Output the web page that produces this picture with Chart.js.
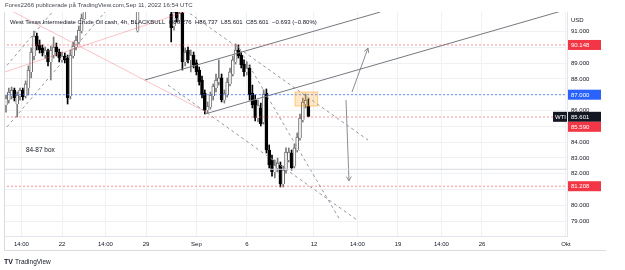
<!DOCTYPE html>
<html>
<head>
<meta charset="utf-8">
<script src="https://cdn.jsdelivr.net/npm/chart.js@4.4.0/dist/chart.umd.min.js"></script>
<style>
  html, body { margin: 0; padding: 0; background: #fff; }
  canvas { display: block; }
</style>
</head>
<body>
<canvas id="chart" width="625" height="270"></canvas>
<script>
// 4h bars, x = bar index (6 bars per trading day, 0 = Mon 22 Aug 00:00)
const barIdx = [-20,-19,-18,-17,-16,-15,-14,-13,-12,-11,-10,-9,-8,-7,-6,-5,-4,-3,-2,-1,0,1,2,3,4,5,6,7,8,
  27,
  39,40,41,42,43,44,45,46,47,48,49,50,51,52,53,54,55,56,57,58,59,60,61,62,63,64,65,66,67,68,69,70,71,72,73,74,75,76,77,78,79,80,81,82,83,84,85,86,87,88];
const opens = [86.35,86.66,86.92,87.30,86.41,86.92,87.30,86.92,87.42,88.44,89.45,90.71,90.15,89.96,89.51,89.70,89.07,89.51,90.02,89.70,89.20,89.45,89.32,86.92,89.45,90.02,90.34,91.03,91.79,
  91.05,
  92.11,91.35,92.23,91.73,92.17,89.07,89.83,89.20,89.51,89.01,88.56,87.93,87.11,86.03,86.22,86.92,87.42,87.80,88.06,86.66,86.98,87.68,88.31,89.07,89.83,89.51,88.94,88.44,88.69,87.11,86.66,85.52,86.16,85.27,87.11,83.50,82.87,82.11,82.36,82.55,81.35,82.23,82.87,83.31,82.49,83.50,84.26,85.40,86.41,86.276];
const highs = [86.98,87.42,87.49,87.42,87.17,87.42,87.42,87.87,88.82,89.96,91.03,90.90,90.46,90.15,90.02,89.89,90.08,90.65,90.27,89.89,89.70,89.64,89.51,89.83,90.34,90.71,91.35,92.11,92.99,
  93.00,
  92.68,92.80,92.87,92.49,92.36,89.96,90.02,89.83,89.70,89.20,88.75,88.18,87.30,86.54,87.17,87.68,88.31,89.20,88.31,87.30,88.06,88.69,89.45,90.21,90.15,89.70,89.20,89.07,88.88,87.61,86.98,86.66,86.47,87.30,87.36,83.82,83.18,82.87,82.99,82.74,82.49,83.63,83.63,83.50,83.88,84.58,85.78,86.79,87.04,86.737];
const lows = [85.90,86.47,86.73,86.60,85.59,86.66,86.66,86.79,86.98,88.06,89.20,89.83,89.64,89.45,89.32,88.82,87.93,89.32,89.45,89.07,89.07,89.01,86.41,86.73,89.32,89.83,90.21,90.90,91.73,
  90.97,
  90.34,91.09,91.60,91.60,88.56,88.82,89.01,88.44,88.69,88.25,87.61,86.79,85.78,85.84,86.09,86.66,87.17,87.61,86.54,86.47,86.85,87.55,88.18,88.94,89.32,88.69,88.18,88.25,86.66,86.16,85.34,85.27,85.02,85.14,83.31,82.36,81.85,81.73,82.11,81.16,81.16,82.04,82.74,82.23,82.36,83.37,84.13,85.27,86.16,85.601];
const closes = [86.79,87.17,87.30,86.79,86.98,87.30,86.85,87.68,88.56,89.70,90.71,90.08,89.83,89.64,89.83,89.07,89.83,90.02,89.70,89.32,89.45,89.20,86.79,89.51,90.08,90.46,91.09,91.85,92.68,
  92.60,
  91.22,92.23,91.85,92.17,89.07,89.70,89.20,89.51,88.88,88.44,87.80,86.98,86.03,86.28,86.98,87.55,87.93,88.06,86.66,87.11,87.80,88.44,89.20,89.83,89.45,88.88,88.44,88.69,86.98,86.35,85.52,86.35,85.14,87.04,83.50,82.55,82.11,82.55,82.68,81.35,82.23,83.37,83.37,82.36,83.63,84.32,85.52,86.54,86.66,85.601];

const tickBars = [-14.5, 0, 15.5, 30, 48, 66, 90, 105.5, 120, 135.5, 150, 180];
const tickLabels = ['14:00', '22', '14:00', '29', 'Sep', '6', '12', '14:00', '19', '14:00', '26', 'Okt'];
const priceTicks = [79, 80, 81, 82, 83, 84, 85, 86, 87, 88, 89, 90, 91];
const coveredTicks = [81, 85, 87, 90];

// drawings, in [bar, price]
const redLevels = [90.148, 85.590, 81.208];
const blueLevels = [87.000];
const grayLevels = [82.28];
const channelLines = [[[29.6, 87.93], [113.6, 92.23]], [[51.1, 85.78], [179.6, 92.36]]];
const pinkLines = [[[-20.36, 88.44], [51.07, 92.66]], [[-19.29, 92.42], [51.79, 85.87]]];
const dashedLines = [
  [[-21.07, 88.56], [-0.71, 92.80]],
  [[-19.64, 84.96], [17.14, 92.61]],
  [[43.93, 92.36], [109.29, 84.13]],
  [[62.5, 90.15], [99.29, 79.07]],
  [[37.86, 87.61], [105.36, 79.07]]
];
const arrows = [[[103.57, 87.17], [109.29, 89.95]], [[101.43, 86.66], [102.5, 81.54]]];
const boxBars = [83.2, 91.3];
const boxPrices = [86.28, 87.17];
const noteText = '84-87 box';
const notePos = [-12.9, 83.5];
const lastPrice = 85.601;

const FONT = '"Liberation Sans", Arial, sans-serif';
const xMin = -20.36, xMax = 180.36, yMin = 78.057, yMax = 92.234;

const isUp = closes.map((c, i) => c >= opens[i]);
const segData = pts => pts.map(([b, p]) => ({ x: b, y: p }));
const lineSet = (pts, color, dash) => ({
  type: 'line', data: segData(pts), borderColor: color, borderWidth: 1,
  borderDash: dash || [], pointRadius: 0, fill: false, tension: 0, order: -1
});

const datasets = [
  {
    type: 'bar', data: barIdx.map((b, i) => ({ x: b, y: [lows[i], highs[i]] })),
    backgroundColor: isUp.map(u => u ? '#7b7b7b' : '#000'), barThickness: 1,
    grouped: false, order: 2
  },
  {
    type: 'bar', data: barIdx.map((b, i) => ({ x: b, y: [opens[i], closes[i]] })),
    backgroundColor: isUp.map(u => u ? '#ffffff' : '#000'),
    borderColor: isUp.map(u => u ? '#6b6b6b' : '#000'), borderWidth: 1,
    barThickness: 3, grouped: false, order: 1
  }
];
redLevels.forEach(v => datasets.push(lineSet([[xMin - 5, v], [xMax + 5, v]], 'rgba(242,54,69,0.55)', [2, 2])));
blueLevels.forEach(v => datasets.push(lineSet([[xMin - 5, v], [xMax + 5, v]], 'rgba(41,98,255,0.7)', [2, 2])));
grayLevels.forEach(v => datasets.push(lineSet([[xMin - 5, v], [xMax + 5, v]], '#d6d8dd')));
pinkLines.forEach(l => datasets.push(lineSet(l, 'rgba(242,54,69,0.3)')));
channelLines.forEach(l => datasets.push(lineSet(l, '#75787f')));
dashedLines.forEach(l => datasets.push(lineSet(l, '#9598a1', [3, 3])));
arrows.forEach(l => datasets.push(lineSet(l, '#8a8d96')));

const overlay = {
  id: 'overlay',
  afterDatasetsDraw(chart) {
    const { ctx, chartArea: a, scales: { x, y } } = chart;
    ctx.save();
    ctx.beginPath(); ctx.rect(a.left, a.top, a.width, a.height); ctx.clip();
    const bx0 = x.getPixelForValue(boxBars[0]), bx1 = x.getPixelForValue(boxBars[1]);
    const by0 = y.getPixelForValue(boxPrices[1]), by1 = y.getPixelForValue(boxPrices[0]);
    ctx.fillStyle = 'rgba(255,152,0,0.22)';
    ctx.fillRect(bx0, by0, bx1 - bx0, by1 - by0);
    ctx.strokeStyle = 'rgba(255,152,0,0.45)'; ctx.lineWidth = 1;
    ctx.strokeRect(bx0, by0, bx1 - bx0, by1 - by0);
    // arrow heads
    ctx.strokeStyle = '#8a8d96';
    arrows.forEach(([p0, p1]) => {
      const x0 = x.getPixelForValue(p0[0]), y0 = y.getPixelForValue(p0[1]);
      const x1 = x.getPixelForValue(p1[0]), y1 = y.getPixelForValue(p1[1]);
      const ang = Math.atan2(y1 - y0, x1 - x0), L = 5;
      ctx.beginPath();
      ctx.moveTo(x1 - L * Math.cos(ang - 0.5), y1 - L * Math.sin(ang - 0.5));
      ctx.lineTo(x1, y1);
      ctx.lineTo(x1 - L * Math.cos(ang + 0.5), y1 - L * Math.sin(ang + 0.5));
      ctx.stroke();
    });
    ctx.fillStyle = '#131722'; ctx.font = '6.5px ' + FONT; ctx.textBaseline = 'middle';
    ctx.fillText(noteText, x.getPixelForValue(notePos[0]), y.getPixelForValue(notePos[1]));
    ctx.restore();
  },
  afterDraw(chart) {
    const { ctx, chartArea: a, scales: { y } } = chart;
    ctx.save();
    // frame
    ctx.strokeStyle = '#d9dbe0'; ctx.lineWidth = 1;
    ctx.beginPath();
    ctx.moveTo(4.5, a.top); ctx.lineTo(4.5, 250.5); ctx.lineTo(606, 250.5);
    ctx.stroke();
    // price tags
    const tags = [
      { v: redLevels[0], bg: '#f23645' },
      { v: blueLevels[0], bg: '#2962ff' },
      { v: lastPrice, bg: '#131722', name: 'WTI' },
      { v: redLevels[1], bg: '#f23645' },
      { v: redLevels[2], bg: '#f23645' }
    ];
    ctx.font = '6px ' + FONT; ctx.textBaseline = 'middle';
    let prev = -100;
    tags.forEach(t => {
      let yc = y.getPixelForValue(t.v);
      if (yc - prev < 10) yc = prev + 10;
      prev = yc;
      ctx.fillStyle = t.bg;
      ctx.fillRect(a.right + 1, yc - 5, 33, 10);
      ctx.fillStyle = '#fff';
      ctx.fillText(t.v.toFixed(3), a.right + 4, yc + 0.5);
      if (t.name) {
        ctx.fillStyle = t.bg;
        ctx.fillRect(a.right - 14, yc - 5, 14, 10);
        ctx.fillStyle = '#fff';
        ctx.fillText(t.name, a.right - 12, yc + 0.5);
      }
    });
    ctx.fillStyle = '#131722';
    ctx.fillText('USD', a.right + 4, 20);
    // header, legend, footer
    ctx.fillStyle = '#434651'; ctx.font = '6.1px ' + FONT;
    ctx.fillText('Forex2266 publicerade på TradingView.com,Sep 11, 2022 16:54 UTC', 5, 5);
    ctx.fillStyle = '#131722'; ctx.font = '6px ' + FONT;
    ctx.fillText('West Texas Intermediate Crude Oil cash, 4h, BLACKBULL  O86.276  H86.737  L85.601  C85.601  \u22120.693 (\u22120.80%)', 10, 22);
    ctx.font = 'bold 7px ' + FONT;
    ctx.fillText('TV', 4, 262);
    ctx.font = '6.5px ' + FONT;
    ctx.fillText('TradingView', 15, 262);
    ctx.restore();
  }
};

Chart.defaults.font.family = FONT;

new Chart(document.getElementById('chart'), {
  type: 'bar',
  data: { datasets },
  options: {
    responsive: false,
    animation: false,
    layout: { padding: { left: 5, top: 12, right: 0, bottom: 19 } },
    plugins: { legend: { display: false }, tooltip: { enabled: false } },
    scales: {
      x: {
        type: 'linear', min: xMin, max: xMax, offset: false,
        grid: { color: '#f0f1f4', drawTicks: false, offset: false },
        border: { color: '#e3e5ea' },
        afterBuildTicks: s => { s.ticks = tickBars.map(v => ({ value: v })); },
        afterFit: s => { s.height = 15; },
        ticks: {
          autoSkip: false, maxRotation: 0, padding: 5, color: '#131722',
          font: { size: 6 },
          callback: (v, i) => tickLabels[i]
        }
      },
      y: {
        type: 'linear', position: 'right', min: yMin, max: yMax,
        grid: { color: '#f0f1f4', drawTicks: false },
        border: { color: '#e3e5ea' },
        afterBuildTicks: s => { s.ticks = priceTicks.map(v => ({ value: v })); },
        afterFit: s => { s.width = 58; },
        ticks: {
          padding: 4, color: '#131722', font: { size: 6 },
          callback: v => coveredTicks.includes(v) ? '' : v.toFixed(3)
        }
      }
    }
  },
  plugins: [overlay]
});
</script>
</body>
</html>
